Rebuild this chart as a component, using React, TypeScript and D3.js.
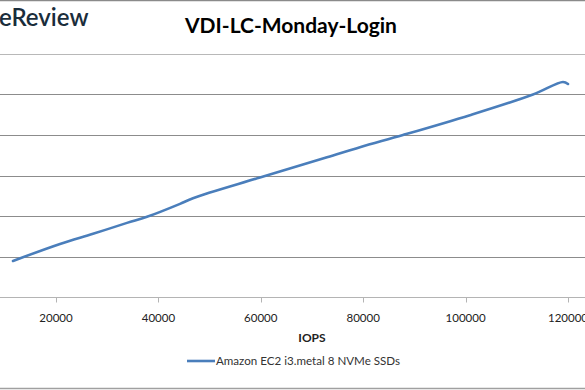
import React, { useEffect, useRef } from 'react';
import * as d3 from 'd3';

// values (latency axis labels are cropped out of the picture)
const iops = [11600, 20780, 27230, 33870, 37770, 44220, 46760, 59840, 72930, 79370, 87770, 100850, 113160, 119020, 120000];
const latency = [0.089, 0.131, 0.156, 0.183, 0.198, 0.230, 0.244, 0.295, 0.345, 0.370, 0.400, 0.449, 0.500, 0.531, 0.526];
const xTicks = [20000, 40000, 60000, 80000, 100000, 120000];
const yTicks = [0, 0.1, 0.2, 0.3, 0.4, 0.5, 0.6];
const title = 'VDI-LC-Monday-Login';
const xLabel = 'IOPS';
const seriesName = 'Amazon EC2 i3.metal 8 NVMe SSDs';

const width = 585;
const height = 390;

const App: React.FC = () => {
    const svgRef = useRef(null);

    useEffect(() => {
        document.body.style.margin = '0';
        const svg = d3.select(svgRef.current);
        svg.selectAll('*').remove();

        const font = 'Lato, sans-serif';
        const xScale = d3.scaleLinear().domain([20000, 120000]).range([56, 568]);
        const yScale = d3.scaleLinear().domain([0, 0.6]).range([297, 54]);

        svg.append('rect').attr('width', width).attr('height', height).attr('fill', 'white');

        // frame (cropped chart border)
        svg.append('line').attr('x1', 0).attr('x2', width).attr('y1', 0.5).attr('y2', 0.5)
            .attr('stroke', '#8a8a8a').attr('stroke-width', 1.5);
        svg.append('line').attr('x1', 0).attr('x2', width).attr('y1', 388.5).attr('y2', 388.5)
            .attr('stroke', '#a0a0a0').attr('stroke-width', 1.5);

        // logo fragment
        svg.append('text').attr('x', -1).attr('y', 26)
            .attr('font-family', font).attr('font-size', 24).attr('font-weight', 600)
            .attr('fill', '#1a2d3b').text('eReview');

        svg.append('text').attr('x', 291).attr('y', 33).attr('text-anchor', 'middle')
            .attr('font-family', font).attr('font-size', 21).attr('font-weight', 'bold')
            .attr('fill', '#000').text(title);

        // gridlines
        svg.append('g').selectAll('line').data(yTicks.slice(1)).enter().append('line')
            .attr('x1', 0).attr('x2', width)
            .attr('y1', d => Math.round(yScale(d)) + 0.5).attr('y2', d => Math.round(yScale(d)) + 0.5)
            .attr('stroke', (d, i) => i === yTicks.length - 2 ? '#b8b8b8' : '#8c8c8c').attr('stroke-width', 1);

        // x axis
        const axisY = Math.round(yScale(0)) + 0.5;
        svg.append('line').attr('x1', 0).attr('x2', width).attr('y1', axisY).attr('y2', axisY)
            .attr('stroke', '#b4b4b4').attr('stroke-width', 1.2);
        const tk = svg.append('g');
        tk.selectAll('line').data(xTicks).enter().append('line')
            .attr('x1', d => Math.round(xScale(d)) + 0.5).attr('x2', d => Math.round(xScale(d)) + 0.5)
            .attr('y1', axisY).attr('y2', axisY + 5).attr('stroke', '#b4b4b4');
        tk.selectAll('text').data(xTicks).enter().append('text')
            .attr('x', d => xScale(d)).attr('y', 322).attr('text-anchor', 'middle')
            .attr('font-family', font).attr('font-size', 11.5).attr('fill', '#222')
            .text(d => String(d));

        svg.append('text').attr('x', 312).attr('y', 342).attr('text-anchor', 'middle')
            .attr('font-family', font).attr('font-size', 12).attr('font-weight', 'bold')
            .attr('fill', '#222').text(xLabel);

        // series line
        const pts = iops.map((v, i) => [v, latency[i]] as [number, number]);
        const line = d3.line<[number, number]>()
            .x(d => xScale(d[0])).y(d => yScale(d[1]))
            .curve(d3.curveCatmullRom);
        svg.append('path').datum(pts).attr('d', line)
            .attr('fill', 'none').attr('stroke', '#4a7ebb').attr('stroke-width', 2.6)
            .attr('stroke-linejoin', 'round').attr('stroke-linecap', 'round');

        // legend
        svg.append('line').attr('x1', 187).attr('x2', 215).attr('y1', 361).attr('y2', 361)
            .attr('stroke', '#4a7ebb').attr('stroke-width', 2.6);
        svg.append('text').attr('x', 216).attr('y', 365)
            .attr('font-family', font).attr('font-size', 11.6).attr('fill', '#333')
            .text(seriesName);
    }, []);

    return <svg ref={svgRef} width={width} height={height} style={{ display: 'block' }}></svg>;
};

export default App;
